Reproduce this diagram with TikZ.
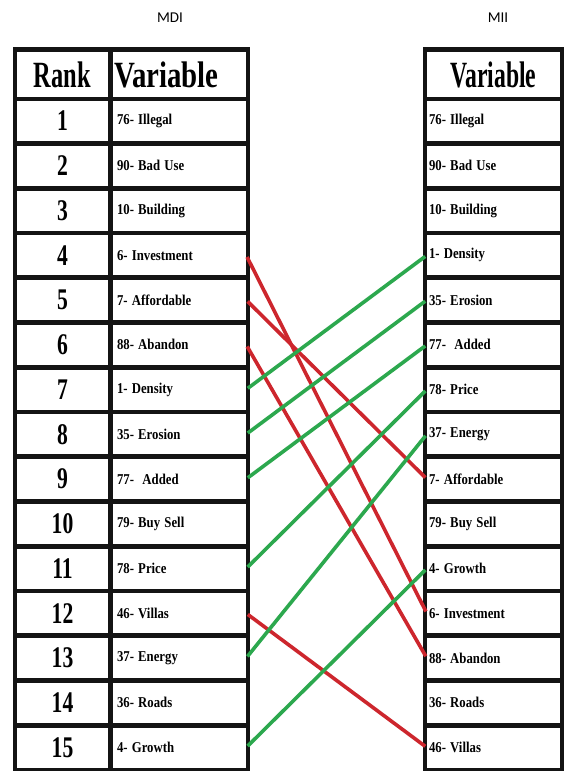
\documentclass[tikz,border=0pt]{standalone}
\usepackage{fontspec}
\usepackage{graphicx}
\setmainfont{Liberation Serif}
\newfontfamily\titlefont{Carlito}
\newcommand{\hs}[2]{\scalebox{#1}[1]{#2}}
\definecolor{lnred}{RGB}{205,38,45}
\definecolor{lngreen}{RGB}{44,168,78}
\tikzset{
  tabbg/.style={fill=black!92},
  cell/.style={fill=white, inner sep=0pt, minimum height=40pt},
  headfont/.style={font=\bfseries\fontsize{37}{37}\selectfont},
  rankcell/.style={cell, minimum width=91pt, font=\bfseries\fontsize{30}{30}\selectfont},
  namecell/.style={cell, text width=129pt, inner xsep=2pt, align=left, font=\bfseries\fontsize{15}{15}\selectfont},
  lnamecell/.style={cell, text width=125pt, inner xsep=4pt, align=left, font=\bfseries\fontsize{15}{15}\selectfont},
  titlenode/.style={font=\titlefont\fontsize{15}{15}\selectfont, inner sep=0pt},
  link/.style={line width=3.6pt, shorten <=2pt, shorten >=2pt},
  redlink/.style={link, draw=lnred},
  greenlink/.style={link, draw=lngreen}
}
\begin{document}
\begin{tikzpicture}[x=1pt,y=-1pt]
\useasboundingbox (0,0) rectangle (565,771);
\fill[white] (0,0) rectangle (565,771);
% titles
\node[titlenode] (mdi) at (170,18) {MDI};
\node[titlenode] (mii) at (498,18) {MII};
% table backgrounds
\fill[tabbg] (13,47) rectangle (250,771);
\fill[tabbg] (423,47) rectangle (564,771);
% headers
\node[cell, minimum width=91pt, minimum height=45pt, headfont] (rankhead) at (62.5,74.5) {\hs{0.66}{Rank}};
\node[cell, minimum width=133pt, minimum height=45pt, text width=131pt, inner xsep=1pt, align=left, headfont] (lvarhead) at (179.5,74.5) {\hs{0.78}{Variable}};
\node[cell, minimum width=133pt, minimum height=45pt, headfont] (rvarhead) at (493.5,74.5) {\hs{0.64}{Variable}};
% left table rows
\foreach \t [count=\k] in {76- Illegal, 90- Bad Use, 10- Building, 6- Investment, 7- Affordable, 88- Abandon, 1- Density, 35- Erosion, 77-~ Added, 79- Buy Sell, 78- Price, 46- Villas, 37- Energy, 36- Roads, 4- Growth} {
  \node[rankcell] (r\k) at (62.5,{121+(\k-1)*44.75}) {\hs{0.72}{\k}};
  \node[lnamecell] (l\k) at (179.5,{121+(\k-1)*44.75}) {\hs{0.85}{\t}};
}
% right table rows
\foreach \t [count=\k] in {76- Illegal, 90- Bad Use, 10- Building, 1- Density, 35- Erosion, 77-~ Added, 78- Price, 37- Energy, 7- Affordable, 79- Buy Sell, 4- Growth, 6- Investment, 88- Abandon, 36- Roads, 46- Villas} {
  \node[namecell] (m\k) at (493.5,{121+(\k-1)*44.75}) {\hs{0.85}{\t}};
}
% connectors
\draw[redlink] (l4.east) -- (m12.west);
\draw[redlink] (l5.east) -- (m9.west);
\draw[redlink] (l6.east) -- (m13.west);
\draw[redlink] (l12.east) -- (m15.west);
\draw[greenlink] (l7.east) -- (m4.west);
\draw[greenlink] (l8.east) -- (m5.west);
\draw[greenlink] (l9.east) -- (m6.west);
\draw[greenlink] (l11.east) -- (m7.west);
\draw[greenlink] (l13.east) -- (m8.west);
\draw[greenlink] (l15.east) -- (m11.west);
\end{tikzpicture}
\end{document}
